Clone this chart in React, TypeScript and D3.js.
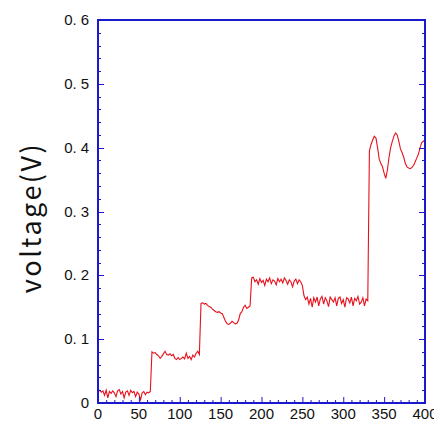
import { useEffect, useRef } from "react";
import * as d3 from "d3";

// sample step of the trace (time units)
const step = 2;

// trace segments: start time + values
const seg1Start = 0;
const seg1 = [0.018, 0.02, 0.017, 0.019, 0.012, 0.02, 0.008, 0.018, 0.015, 0.019, 0.016, 0.01, 0.019, 0.021, 0.014, 0.018, 0.008, 0.017, 0.019, 0.012, 0.02, 0.016, 0.018, 0.01, 0.017, 0.014, 0.005, 0.016, 0.018, 0.013, 0.017, 0.016, 0.018];
const seg2Start = 66;
const seg2 = [0.08, 0.078, 0.079, 0.076, 0.074, 0.07, 0.073, 0.077, 0.081, 0.076, 0.075, 0.077, 0.074, 0.076, 0.07, 0.068, 0.071, 0.068, 0.07, 0.072, 0.069, 0.078, 0.07, 0.073, 0.068, 0.075, 0.072, 0.078, 0.081, 0.076];
const seg3Start = 126;
const seg3 = [0.156, 0.157, 0.155, 0.156, 0.153, 0.151, 0.15, 0.147, 0.145, 0.143, 0.142, 0.143, 0.141, 0.14, 0.134, 0.128, 0.124, 0.123, 0.125, 0.128, 0.126, 0.124, 0.125, 0.13, 0.14, 0.143, 0.15, 0.153, 0.148, 0.15, 0.152];
const seg4Start = 188;
const seg4 = [0.196, 0.197, 0.19, 0.193, 0.186, 0.195, 0.189, 0.192, 0.184, 0.194, 0.19, 0.196, 0.187, 0.193, 0.191, 0.185, 0.195, 0.19, 0.194, 0.188, 0.196, 0.192, 0.186, 0.193, 0.19, 0.182, 0.191, 0.194, 0.187, 0.193, 0.19, 0.184];
const seg5Start = 252;
const seg5 = [0.168, 0.162, 0.166, 0.155, 0.164, 0.15, 0.165, 0.158, 0.166, 0.152, 0.163, 0.167, 0.155, 0.165, 0.16, 0.151, 0.166, 0.162, 0.158, 0.165, 0.152, 0.164, 0.166, 0.156, 0.162, 0.15, 0.165, 0.163, 0.157, 0.166, 0.152, 0.164, 0.16, 0.167, 0.155, 0.158, 0.165, 0.152, 0.163, 0.16];
const seg6Start = 332;
const seg6 = [0.395, 0.405, 0.412, 0.418, 0.415, 0.4, 0.382, 0.375, 0.37, 0.36, 0.352, 0.365, 0.385, 0.4, 0.41, 0.418, 0.423, 0.42, 0.41, 0.398, 0.392, 0.385, 0.375, 0.37, 0.368, 0.367, 0.369, 0.372, 0.378, 0.384, 0.39, 0.4, 0.408, 0.41, 0.412];

const xTicks = [0, 50, 100, 150, 200, 250, 300, 350, 400];
const yTicks = [0, 0.1, 0.2, 0.3, 0.4, 0.5, 0.6];

const W = 434;
const H = 423;
const axisColor = "#1a1acc";

export default function App() {
    const ref = useRef<SVGSVGElement>(null);

    useEffect(() => {
        const svg = d3.select(ref.current);
        svg.selectAll("*").remove();

        const margin = { top: 20, right: 9, bottom: 20, left: 98 };

        const x = d3.scaleLinear().domain([0, 400]).range([margin.left, W - margin.right]);
        const y = d3.scaleLinear().domain([0, 0.6]).range([H - margin.bottom, margin.top]);

        const segs: [number, number[]][] = [
            [seg1Start, seg1], [seg2Start, seg2], [seg3Start, seg3],
            [seg4Start, seg4], [seg5Start, seg5], [seg6Start, seg6],
        ];
        const pts: [number, number][] = [];
        segs.forEach(([s, vals]) => vals.forEach((v, i) => pts.push([s + i * step, v])));

        const line = d3.line<[number, number]>()
            .x(d => x(d[0]))
            .y(d => y(d[1]));

        svg.append("path")
            .datum(pts)
            .attr("fill", "none")
            .attr("stroke", "#e8101a")
            .attr("stroke-width", 1.1)
            .attr("d", line);

        const x0 = x(0), x1 = x(400), y0 = y(0), y1 = y(0.6);

        // minor + major ticks
        const g = svg.append("g").attr("stroke", axisColor).attr("stroke-width", 1);
        d3.range(0, 401, 10).forEach(v => {
            const len = v % 50 === 0 ? 6 : 3;
            g.append("line").attr("x1", x(v) + 0.5).attr("x2", x(v) + 0.5)
                .attr("y1", y0).attr("y2", y0 - len);
        });
        d3.range(0, 31).forEach(i => {
            const v = i * 0.02;
            const len = i % 5 === 0 ? 6 : 3;
            const yy = Math.round(y(v)) + 0.5;
            g.append("line").attr("x1", x0).attr("x2", x0 + len).attr("y1", yy).attr("y2", yy);
            g.append("line").attr("x1", x1).attr("x2", x1 - len).attr("y1", yy).attr("y2", yy);
        });

        // frame
        svg.append("rect")
            .attr("x", x0).attr("y", y1)
            .attr("width", x1 - x0).attr("height", y0 - y1)
            .attr("fill", "none")
            .attr("stroke", axisColor)
            .attr("stroke-width", 2);

        const font = "'Liberation Sans', Arial, sans-serif";

        // y tick labels
        yTicks.forEach(v => {
            const t = svg.append("text")
                .attr("x", 89).attr("y", y(v) + 5)
                .attr("text-anchor", "end")
                .style("font-family", font)
                .style("font-size", "15px")
                .style("fill", "#111");
            if (v === 0) {
                t.text("0");
            } else {
                const s = v.toFixed(1);
                t.append("tspan").text(s.slice(0, 2));
                t.append("tspan").attr("dx", 4).text(s.slice(2));
            }
        });

        // x tick labels
        xTicks.forEach(v => {
            svg.append("text")
                .attr("x", x(v)).attr("y", 419)
                .attr("text-anchor", "middle")
                .style("font-family", font)
                .style("font-size", "15px")
                .style("fill", "#111")
                .text(String(v));
        });

        // y axis label
        svg.append("text")
            .attr("transform", `translate(41,${(y0 + y1) / 2 + 6}) rotate(-90)`)
            .attr("text-anchor", "middle")
            .style("font-family", "'Noto Sans CJK JP', 'Noto Sans', sans-serif")
            .style("font-size", "27px")
            .style("letter-spacing", "2.5px")
            .style("fill", "#111")
            .text("voltage(V)");
    }, []);

    return (
        <svg ref={ref} width={W} height={H}
            style={{ position: "absolute", left: 0, top: 0, background: "#fff" }} />
    );
}
